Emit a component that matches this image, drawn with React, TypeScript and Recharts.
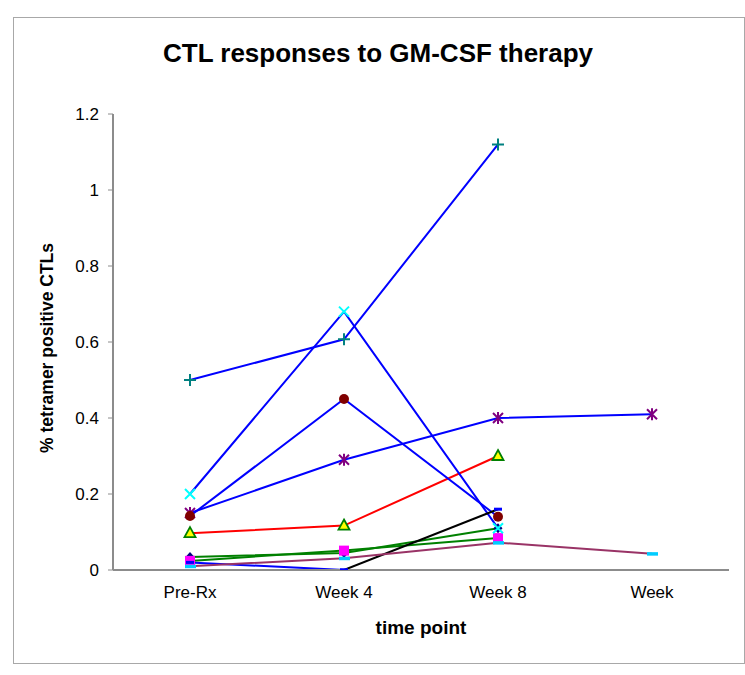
import React from "react";
import { LineChart, Line, XAxis, YAxis } from "recharts";

// time points on the x axis
const timePoints = ["Pre-Rx", "Week 4", "Week 8", "Week"];
const yTicks = [0, 0.2, 0.4, 0.6, 0.8, 1, 1.2];

// one array per patient / marker
const diamondSeries = [0.034, 0.045, 0.11, null];
const squareSeries = [0.024, 0.051, 0.084, null];
const triangleSeries = [0.097, 0.117, 0.3, null];
const crossSeries = [0.2, 0.68, 0.11, null];
const starSeries = [0.15, 0.29, 0.4, 0.41];
const circleSeries = [0.142, 0.45, 0.14, null];
const plusSeries = [0.5, 0.607, 1.12, null];
const blueDashLead = [0.02, 0, null, null];
const blueDashTail = [null, 0, 0.16, null];
const cyanDashSeries = [0.01, 0.031, 0.072, 0.043];

const rows = timePoints.map((t, i) => ({
  t,
  diamond: diamondSeries[i],
  square: squareSeries[i],
  triangle: triangleSeries[i],
  cross: crossSeries[i],
  star: starSeries[i],
  circle: circleSeries[i],
  plus: plusSeries[i],
  blueLead: blueDashLead[i],
  blueTail: blueDashTail[i],
  cyanDash: cyanDashSeries[i],
}));

const font = '"Liberation Sans", Arial, sans-serif';
const frame = "#8c8c8c";

const makeDot = (draw: (x: number, y: number) => React.ReactNode) => (p: any) => {
  const { cx, cy, index, value } = p;
  if (cx == null || cy == null || value == null || Number.isNaN(cy)) return <g key={index} />;
  return <g key={index}>{draw(cx, cy)}</g>;
};

const diamondDot = makeDot((x, y) => (
  <polygon points={`${x},${y - 5} ${x + 4.5},${y} ${x},${y + 5} ${x - 4.5},${y}`} fill="#000080" />
));
const squareDot = makeDot((x, y) => <rect x={x - 5} y={y - 5} width={10} height={10} fill="#ff00ff" />);
const triangleDot = makeDot((x, y) => (
  <polygon
    points={`${x},${y - 6} ${x + 5.5},${y + 4} ${x - 5.5},${y + 4}`}
    fill="#ffff00"
    stroke="#008000"
    strokeWidth={1.8}
  />
));
const crossDot = makeDot((x, y) => (
  <path d={`M${x - 5},${y - 5}L${x + 5},${y + 5}M${x + 5},${y - 5}L${x - 5},${y + 5}`} stroke="#00ffff" strokeWidth={2} />
));
const starDot = makeDot((x, y) => (
  <path
    d={`M${x - 5},${y - 5}L${x + 5},${y + 5}M${x + 5},${y - 5}L${x - 5},${y + 5}M${x},${y - 6}L${x},${y + 6}`}
    stroke="#800080"
    strokeWidth={2}
  />
));
const circleDot = makeDot((x, y) => <circle cx={x} cy={y} r={5} fill="#800000" />);
const plusDot = makeDot((x, y) => (
  <path d={`M${x - 6},${y}L${x + 6},${y}M${x},${y - 6}L${x},${y + 6}`} stroke="#008080" strokeWidth={2} />
));
const blueDashDot = makeDot((x, y) => <rect x={x - 4} y={y - 1.5} width={8} height={3} fill="#0000ff" />);
const cyanDashDot = makeDot((x, y) => <rect x={x - 5} y={y - 1.5} width={11} height={3.5} fill="#00ccff" />);

export default function App() {
  return (
    <div
      style={{
        position: "absolute",
        left: 0,
        top: 0,
        width: 745,
        height: 675,
        background: "#fff",
        fontFamily: font,
      }}
    >
      <div
        style={{
          position: "absolute",
          left: 13,
          top: 17,
          width: 730,
          height: 645,
          border: "1px solid #a8a8a8",
        }}
      />
      <div
        style={{
          position: "absolute",
          left: 378,
          top: 53,
          transform: "translate(-50%, -50%)",
          whiteSpace: "nowrap",
          fontWeight: "bold",
          fontSize: 26,
        }}
      >
        CTL responses to GM-CSF therapy
      </div>
      <div
        style={{
          position: "absolute",
          left: 47,
          top: 348,
          transform: "translate(-50%, -50%) rotate(-90deg)",
          whiteSpace: "nowrap",
          fontWeight: "bold",
          fontSize: 17.5,
        }}
      >
        % tetramer positive CTLs
      </div>
      <div
        style={{
          position: "absolute",
          left: 421,
          top: 628,
          transform: "translate(-50%, -50%)",
          whiteSpace: "nowrap",
          fontWeight: "bold",
          fontSize: 19,
        }}
      >
        time point
      </div>
      <LineChart
        width={745}
        height={675}
        data={rows}
        margin={{ top: 114, right: 16, bottom: 65, left: 53 }}
        style={{ position: "absolute", left: 0, top: 0 }}
      >
        <XAxis
          dataKey="t"
          padding={{ left: 77, right: 77 }}
          height={40}
          tickLine={false}
          tickSize={6}
          tickMargin={10}
          axisLine={{ stroke: frame, strokeWidth: 2 }}
          tick={{ fontSize: 17, fill: "#000", fontFamily: font }}
          interval={0}
        />
        <XAxis xAxisId="top" orientation="top" dataKey="t" height={0} tick={false} tickLine={false} axisLine={{ stroke: frame, strokeWidth: 2 }} />
        <YAxis
          domain={[0, 1.2]}
          ticks={yTicks}
          width={60}
          tickSize={5}
          tickMargin={9}
          tickLine={{ stroke: frame }}
          axisLine={{ stroke: frame, strokeWidth: 2 }}
          tick={{ fontSize: 17, fill: "#000", fontFamily: font }}
          allowDataOverflow
        />
        <YAxis yAxisId="right" orientation="right" domain={[0, 1.2]} width={0} tick={false} tickLine={false} axisLine={{ stroke: frame, strokeWidth: 2 }} />

        <Line dataKey="diamond" stroke="#008000" strokeWidth={2} dot={diamondDot} isAnimationActive={false} />
        <Line dataKey="square" stroke="#008000" strokeWidth={2} dot={squareDot} isAnimationActive={false} />
        <Line dataKey="triangle" stroke="#ff0000" strokeWidth={2} dot={triangleDot} isAnimationActive={false} />
        <Line dataKey="cross" stroke="#0000ff" strokeWidth={2} dot={crossDot} isAnimationActive={false} />
        <Line dataKey="star" stroke="#0000ff" strokeWidth={2} dot={starDot} isAnimationActive={false} />
        <Line dataKey="circle" stroke="#0000ff" strokeWidth={2} dot={circleDot} isAnimationActive={false} />
        <Line dataKey="plus" stroke="#0000ff" strokeWidth={2} dot={plusDot} isAnimationActive={false} />
        <Line dataKey="blueLead" stroke="#0000ff" strokeWidth={2} dot={blueDashDot} isAnimationActive={false} />
        <Line dataKey="blueTail" stroke="#000000" strokeWidth={2} dot={blueDashDot} isAnimationActive={false} />
        <Line dataKey="cyanDash" stroke="#993366" strokeWidth={2} dot={cyanDashDot} isAnimationActive={false} />
      </LineChart>
    </div>
  );
}
